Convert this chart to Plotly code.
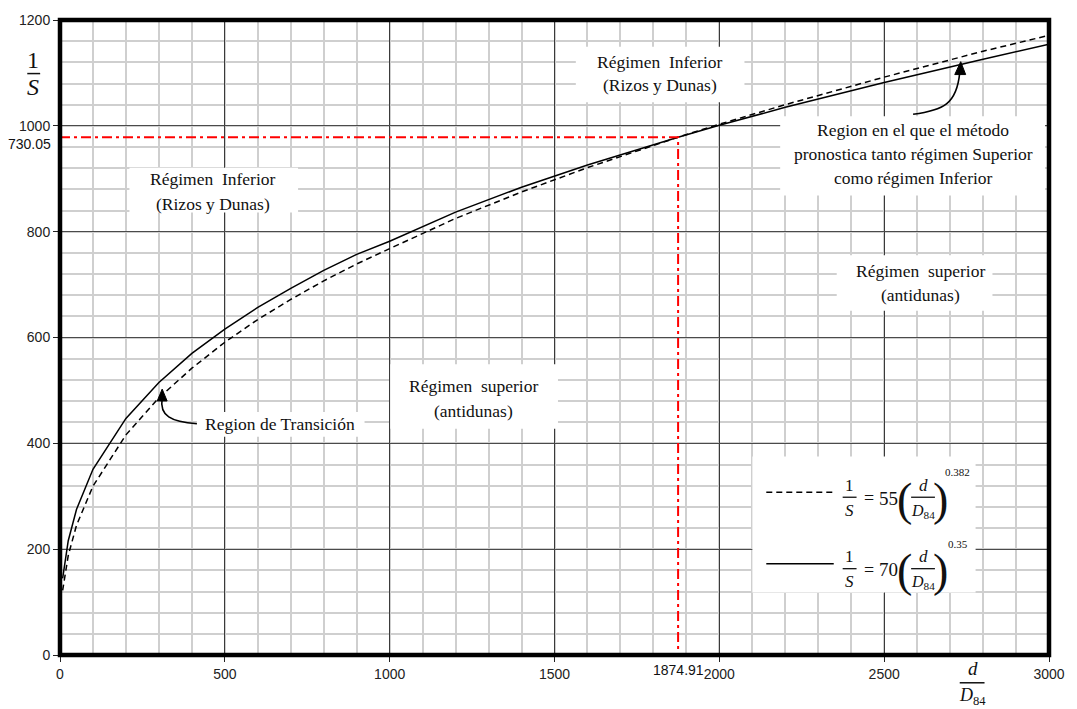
import plotly.graph_objects as go

# ---- data -------------------------------------------------------------
d_ratio = [8, 25, 50, 100, 200, 300, 400, 500, 600, 700, 800, 900, 1000,
           1200, 1400, 1600, 1874.91, 2000, 2200, 2500, 2800, 3000]
# 1/S = 70 (d/D84)^0.35  (solid)
inv_s_solid = [145, 216, 275, 351, 447, 515, 570, 616, 657, 693, 727, 757, 782,
               837, 884, 926, 978.5, 1001, 1035, 1082, 1126, 1154]
# 1/S = 55 (d/D84)^0.382  (dashed)
inv_s_dashed = [122, 188, 245, 319, 416, 486, 542, 591, 634, 672, 707, 739, 768,
                825, 875, 921, 978.5, 1003, 1040, 1092, 1141, 1171]

cross_x = 1874.91
cross_y = 978.5
cross_x_label = "1874.91"
cross_y_label = "730.05"

x_ticks = [0, 500, 1000, 1500, 2000, 2500, 3000]
y_ticks = [0, 200, 400, 600, 800, 1000, 1200]

# ---- figure geometry (pixels) -----------------------------------------
W, H = 1077, 709
L, R, T, B = 60, 1057, 15, 655


def px(x):
    return (x - L) / (R - L)


def py(y):
    return (B - y) / (B - T)


SERIF = "Liberation Serif"
SANS = "Liberation Sans"

fig = go.Figure()

fig.add_trace(go.Scatter(x=d_ratio, y=inv_s_dashed, mode="lines",
                         line=dict(color="black", width=1.5, dash="6px,4px"),
                         hoverinfo="skip", showlegend=False))
fig.add_trace(go.Scatter(x=d_ratio, y=inv_s_solid, mode="lines",
                         line=dict(color="black", width=1.5),
                         hoverinfo="skip", showlegend=False))
fig.add_trace(go.Scatter(x=[0, cross_x, cross_x], y=[cross_y, cross_y, 0],
                         mode="lines",
                         line=dict(color="#ff0000", width=2,
                                   dash="10px,4px,3px,4px"),
                         hoverinfo="skip", showlegend=False))

shapes = []
annotations = []


def white_box(x0, y0, x1, y1):
    shapes.append(dict(type="rect", xref="paper", yref="paper",
                       x0=px(x0), x1=px(x1), y0=py(y1), y1=py(y0),
                       fillcolor="white", line=dict(width=0), layer="above"))


def text(x, y, s, size=17.5, family=SERIF, xanchor="center", yanchor="middle"):
    annotations.append(dict(xref="paper", yref="paper", x=px(x), y=py(y),
                            text=s, showarrow=False,
                            xanchor=xanchor, yanchor=yanchor,
                            font=dict(family=family, size=size, color="#111")))


def hbar(x0, x1, y, width=1.3):
    shapes.append(dict(type="line", xref="paper", yref="paper",
                       x0=px(x0), x1=px(x1), y0=py(y), y1=py(y),
                       line=dict(color="#111", width=width), layer="above"))


def path(points_cmd, **kw):
    shapes.append(dict(type="path", xref="paper", yref="paper",
                       path=points_cmd, layer="above", **kw))


def p(x, y):
    return f"{px(x):.5f},{py(y):.5f}"


NB = "\u00a0"

# region labels on white boxes
white_box(580, 42, 750, 98)
text(665, 57, f"Régimen{NB} Inferior")
text(665, 81, "(Rizos y Dunas)")

white_box(130, 164, 300, 209)
text(214, 175, f"Régimen{NB} Inferior")
text(214, 200, "(Rizos y Dunas)")

white_box(393, 362, 562, 427)
text(477, 384, f"Régimen{NB} superior")
text(477, 409, "(antidunas)")

white_box(843, 252, 1000, 308)
text(927, 268, f"Régimen{NB} superior")
text(927, 292, "(antidunas)")

white_box(786, 112, 1053, 192)
text(920, 126, "Region en el que el método")
text(920, 150, "pronostica tanto régimen Superior")
text(920, 174, "como régimen Inferior")

white_box(198, 410, 367, 435)
text(282, 422, "Region de Transición")

# curved pointers
path(f"M {p(198, 422)} C {p(172, 420)} {p(160, 414)} {p(163, 396)}",
     line=dict(color="black", width=1.6))
path(f"M {p(158, 399)} L {p(163, 387)} L {p(168, 399)} Z",
     line=dict(color="black", width=1), fillcolor="black")
path(f"M {p(920, 110)} C {p(950, 106)} {p(964, 100)} {p(967, 68)}",
     line=dict(color="black", width=1.6))
path(f"M {p(962, 70)} L {p(968, 57)} L {p(973, 70)} Z",
     line=dict(color="black", width=1), fillcolor="black")

# equation key
white_box(758, 455, 983, 592)
rows = [(491, "55", "0.382", "6px,4px"), (563, "70", "0.35", "solid")]
for yl, coef, expo, dash in rows:
    shapes.append(dict(type="line", xref="paper", yref="paper",
                       x0=px(772), x1=px(840), y0=py(yl), y1=py(yl),
                       line=dict(color="black", width=1.5, dash=dash),
                       layer="above"))
    yc = yl + 5
    text(856, yc - 12, "1", size=17)
    hbar(849, 863, yc)
    text(856, yc + 13, "<i>S</i>", size=17)
    text(876, yc + 1, "=", size=18)
    text(895, yc + 1, coef, size=19)
    text(911, yc + 2, "(", size=46)
    text(930, yc - 12, "<i>d</i>", size=17)
    hbar(918, 942, yc)
    text(930, yc + 14, "<i>D</i><sub>84</sub>", size=16)
    text(948, yc + 2, ")", size=46)
    text(965, yc - 25, expo, size=11)

# axis titles as fractions
text(33, 55, "1", size=24)
hbar(27, 40, 69, width=1.5)
text(33, 83, "<i>S</i>", size=24)

text(980, 669, "<i>d</i>", size=19)
hbar(967, 992, 683, width=1.5)
text(980, 697, "<i>D</i><sub>84</sub>", size=18)

# special tick labels at the crossing point
text(53, 140, cross_y_label, size=14, family=SANS, xanchor="right")
text(683, 670, cross_x_label, size=14, family=SANS)

# heavy frame
shapes.append(dict(type="rect", xref="paper", yref="paper", x0=0, x1=1,
                   y0=0, y1=1, line=dict(color="black", width=4.5),
                   layer="above"))

fig.update_layout(
    width=W, height=H,
    margin=dict(l=L, r=W - R, t=T, b=H - B),
    paper_bgcolor="white", plot_bgcolor="white",
    shapes=shapes, annotations=annotations,
    showlegend=False,
    xaxis=dict(range=[0, 3000], tickvals=x_ticks, ticks="outside",
               ticklen=6, tickcolor="#222", showgrid=True,
               gridcolor="#3a3a3a", gridwidth=1, zeroline=False,
               showline=False,
               tickfont=dict(family=SANS, size=14, color="#222"),
               minor=dict(dtick=100, showgrid=True, gridcolor="#cfcfcf",
                          gridwidth=1.5)),
    yaxis=dict(range=[0, 1200], tickvals=y_ticks, ticks="outside",
               ticklen=6, tickcolor="#222", showgrid=True,
               gridcolor="#4a4a4a", gridwidth=1.2, zeroline=False,
               showline=False,
               tickfont=dict(family=SANS, size=14, color="#222"),
               minor=dict(dtick=40, showgrid=True, gridcolor="#cfcfcf",
                          gridwidth=1.5)),
)

fig.write_html("out.html")
